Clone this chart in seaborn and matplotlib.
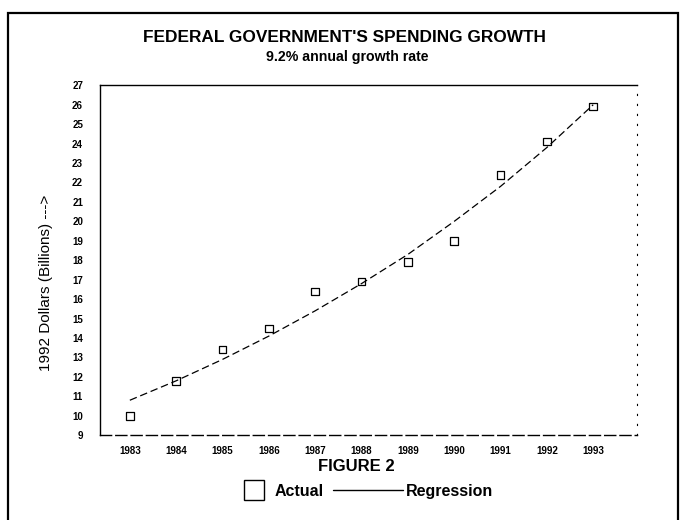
import matplotlib
matplotlib.use("Agg")
import matplotlib.pyplot as plt
import seaborn as sns
import pandas as pd
from matplotlib.patches import Rectangle
from matplotlib.lines import Line2D

# Data
years = [1983, 1984, 1985, 1986, 1987, 1988, 1989, 1990, 1991, 1992, 1993]
actual = [10.0, 11.8, 13.4, 14.5, 16.4, 16.9, 17.9, 19.0, 22.4, 24.1, 25.9]
regression = [10.8, 11.8, 12.9, 14.1, 15.4, 16.8, 18.3, 20.0, 21.8, 23.8, 26.0]
y_ticks = list(range(9, 28))

df = pd.DataFrame({"year": years, "actual": actual, "regression": regression})

sns.set_style("white")
plt.rcParams["font.family"] = ["Liberation Sans", "DejaVu Sans"]
plt.rcParams["text.color"] = "black"
plt.rcParams["axes.labelcolor"] = "black"
plt.rcParams["xtick.color"] = "black"
plt.rcParams["ytick.color"] = "black"

fig = plt.figure(figsize=(6.83, 5.2), dpi=100)
ax = fig.add_axes([0.146, 0.163, 0.787, 0.673])

sns.lineplot(data=df, x="year", y="regression", ax=ax, color="black",
             linewidth=0.9, linestyle=(0, (6, 3)))
sns.scatterplot(data=df, x="year", y="actual", ax=ax, marker="s", s=30,
                facecolor="none", edgecolor="black", linewidth=0.9)

ax.set_xlim(1982.35, 1993.95)
ax.set_ylim(9, 27)
ax.set_yticks(y_ticks)
ax.set_xticks(years)
ax.tick_params(axis="both", direction="in", length=4, width=0.8, labelsize=7)
ax.tick_params(axis="y", pad=12)
ax.tick_params(axis="x", pad=8)
for lab in ax.get_xticklabels() + ax.get_yticklabels():
    lab.set_fontweight("bold")

for side in ["left", "top", "bottom"]:
    ax.spines[side].set_color("black")
    ax.spines[side].set_linewidth(1.0)
ax.spines["bottom"].set_linestyle((0, (8, 3)))
ax.spines["right"].set_color("black")
ax.spines["right"].set_linewidth(0.8)
ax.spines["right"].set_linestyle((0, (1, 8)))

ax.set_xlabel("")
ax.set_ylabel("1992 Dollars (Billions) --->", fontsize=11)
ax.yaxis.set_label_coords(-0.086, 0.434)

fig.text(0.505, 0.928, "FEDERAL GOVERNMENT'S SPENDING GROWTH",
         ha="center", va="center", fontsize=12.4, fontweight="bold")
fig.text(0.508, 0.890, "9.2% annual growth rate",
         ha="center", va="center", fontsize=10.2, fontweight="bold")
fig.text(0.521, 0.103, "FIGURE 2", ha="center", va="center",
         fontsize=12, fontweight="bold")

# legend in two pieces so the regression line can run into its label
actual_handle = Line2D([], [], marker="s", linestyle="none", markersize=15,
                       markerfacecolor="none", markeredgecolor="black",
                       markeredgewidth=1.0)
reg_handle = Line2D([], [], color="black", linewidth=1.0)
leg1 = fig.legend([actual_handle], ["Actual"], loc="center left",
                  bbox_to_anchor=(0.356, 0.055), frameon=False, borderpad=0,
                  borderaxespad=0, prop={"size": 11.5, "weight": "bold"},
                  handlelength=1.3, handletextpad=0.7)
leg2 = fig.legend([reg_handle], ["Regression"], loc="center left",
                  bbox_to_anchor=(0.4876, 0.055), frameon=False, borderpad=0,
                  borderaxespad=0, prop={"size": 11.5, "weight": "bold"},
                  handlelength=4.4, handletextpad=0.15)

# outer frame of the page figure
fig.patches.append(Rectangle((0.012, -0.01), 0.98, 0.985, transform=fig.transFigure,
                             fill=False, edgecolor="black", linewidth=1.6))

fig.savefig("out.png", dpi=100)
